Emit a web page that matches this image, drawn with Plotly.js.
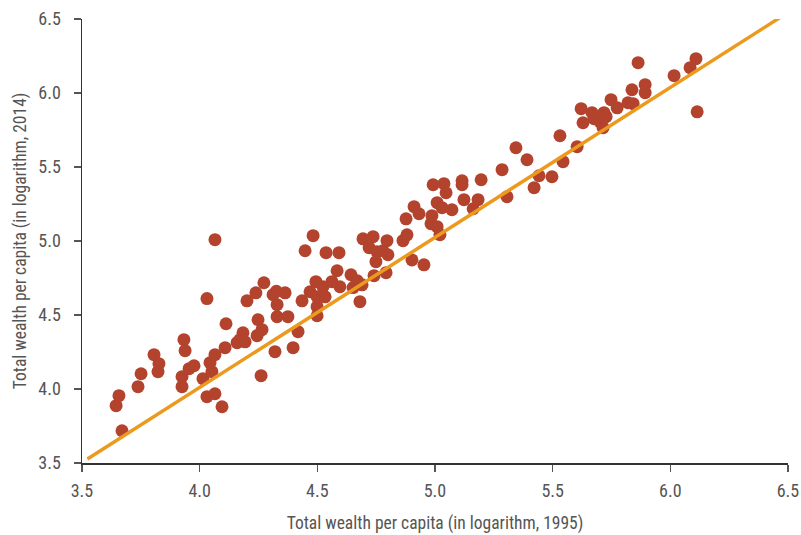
<!DOCTYPE html>
<html>
<head>
<meta charset="utf-8">
<script src="https://cdn.plot.ly/plotly-3.0.1.min.js"></script>
<style>
html,body{margin:0;padding:0;background:#fff;}
#chart{width:801px;height:535px;}
</style>
</head>
<body>
<div id="chart"></div>
<script>
// Total wealth per capita (log), 1995
const wealth1995 = [
3.645,3.657,3.670,3.738,3.751,3.806,3.827,3.823,3.925,3.933,
3.938,3.925,3.955,3.976,4.014,4.031,4.031,4.044,4.065,4.052,
4.065,4.065,4.095,4.108,4.112,4.159,4.184,4.193,4.171,4.201,
4.239,4.248,4.265,4.244,4.261,4.273,4.320,4.312,4.329,4.329,
4.363,4.375,4.397,4.435,4.418,4.448,4.469,4.482,4.494,4.499,
4.499,4.499,4.524,4.533,4.537,4.562,4.584,4.592,4.596,4.643,
4.669,4.652,4.690,4.681,4.694,4.737,4.720,4.754,4.779,4.800,
4.749,4.741,4.792,4.796,4.864,4.881,4.877,4.902,4.953,4.911,
4.932,4.987,4.983,5.009,5.021,5.009,5.030,5.072,4.992,5.038,
5.047,5.115,5.115,5.123,5.162,5.183,5.196,5.285,5.306,5.344,
5.391,5.421,5.442,5.497,5.531,5.544,5.604,5.621,5.629,5.667,
5.676,5.718,5.727,5.701,5.714,5.748,5.774,5.820,5.842,5.837,
5.863,5.893,5.893,6.016,6.084,6.109,6.114,4.326
];
// Total wealth per capita (log), 2014
const wealth2014 = [
3.887,3.955,3.718,4.016,4.103,4.232,4.171,4.117,4.016,4.333,
4.259,4.083,4.137,4.157,4.070,3.948,4.611,4.178,4.232,4.117,
5.009,3.968,3.880,4.279,4.441,4.313,4.380,4.319,4.333,4.596,
4.650,4.468,4.401,4.360,4.090,4.718,4.252,4.637,4.570,4.489,
4.650,4.489,4.279,4.596,4.387,4.934,4.657,5.036,4.725,4.623,
4.556,4.495,4.691,4.623,4.921,4.725,4.799,4.921,4.691,4.772,
4.732,4.685,4.704,4.590,5.015,5.029,4.955,4.928,4.934,4.907,
4.860,4.766,4.786,5.002,5.002,5.042,5.150,4.872,4.839,5.232,
5.184,5.171,5.117,5.097,5.043,5.259,5.225,5.211,5.380,5.387,
5.326,5.407,5.380,5.279,5.218,5.279,5.414,5.482,5.299,5.630,
5.549,5.360,5.441,5.434,5.711,5.536,5.637,5.894,5.799,5.867,
5.826,5.867,5.840,5.806,5.766,5.955,5.900,5.934,5.928,6.022,
6.205,6.056,6.002,6.117,6.171,6.232,5.873,4.660
];
// Fitted line end points
const fitX = [3.523, 6.474];
const fitY = [3.527, 6.518];

const xTicks = [3.5, 4.0, 4.5, 5.0, 5.5, 6.0, 6.5];
const yTicks = [3.5, 4.0, 4.5, 5.0, 5.5, 6.0, 6.5];
const tickText = ["3.5","4.0","4.5","5.0","5.5","6.0","6.5"];

const FONT = "'Liberation Sans Narrow', 'Roboto Condensed', 'Arial Narrow', Roboto, sans-serif";

const traces = [
  {
    x: wealth1995, y: wealth2014, type: 'scatter', mode: 'markers',
    marker: {color: '#B3432D', size: 13, line: {width: 0}},
    hoverinfo: 'x+y', showlegend: false
  },
  {
    x: fitX, y: fitY, type: 'scatter', mode: 'lines',
    line: {color: '#EC9A1E', width: 3.5},
    hoverinfo: 'skip', showlegend: false
  }
];

const axisCommon = {
  showgrid: false, zeroline: false,
  showline: true, linecolor: '#333', linewidth: 1.5,
  ticks: 'outside', ticklen: 7, tickwidth: 1.5, tickcolor: '#555',
  tickfont: {family: FONT, size: 18, color: '#555'},
  tickmode: 'array'
};

const layout = {
  width: 801, height: 535,
  margin: {l: 82, r: 13, t: 19, b: 72},
  paper_bgcolor: '#fff', plot_bgcolor: '#fff',
  font: {family: FONT, color: '#555'},
  xaxis: Object.assign({}, axisCommon, {
    range: [3.5, 6.5], tickvals: xTicks, ticktext: tickText,
    ticklabelstandoff: 4,
    title: {text: 'Total wealth per capita (in logarithm, 1995)', font: {family: FONT, size: 17.5, color: '#555'}, standoff: 16}
  }),
  yaxis: Object.assign({}, axisCommon, {
    range: [3.5, 6.5], tickvals: yTicks, ticktext: tickText,
    ticklabelstandoff: 9,
    title: {text: 'Total wealth per capita (in logarithm, 2014)', font: {family: FONT, size: 17.5, color: '#555'}, standoff: 7}
  })
};

Plotly.newPlot('chart', traces, layout, {displayModeBar: false, staticPlot: true});
</script>
</body>
</html>
